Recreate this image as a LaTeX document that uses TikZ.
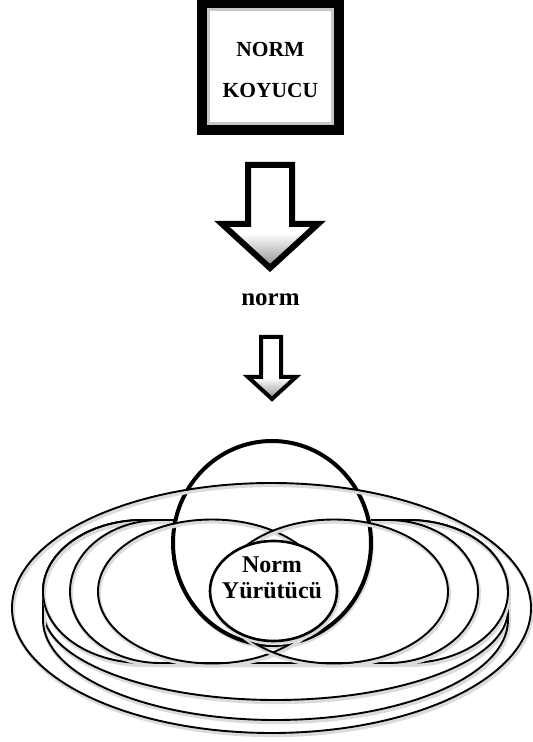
\documentclass[tikz,border=0pt]{standalone}
\usepackage{fontspec}
\setmainfont{Liberation Serif}
\pgfdeclareverticalshading{arrowshade}{100bp}{color(0bp)=(black!45); color(25bp)=(black!45); color(42bp)=(white); color(100bp)=(white)}
\begin{document}
\begin{tikzpicture}[x=1pt,y=1pt,
  shd/.style={preaction={draw=black!14,line width=3.5pt,transform canvas={xshift=1.2pt,yshift=-2.4pt}}},
  thinline/.style={draw=black,line width=1.9pt,shd},
  arrowshape/.style={draw=black,line join=miter,shading=arrowshade},
  labeltext/.style={inner sep=0pt,align=center,text=black}]
\useasboundingbox (0,0) rectangle (533,742);
% ---- top box ----
\node[draw=black,line width=10pt,minimum width=137pt,minimum height=127pt,inner sep=0pt] (box) at (270.5,675.5) {};
\draw[black!22,line width=3pt] (208.5,732.5) rectangle (332.5,618.5);
\node[labeltext,font=\bfseries\fontsize{21.5pt}{41pt}\selectfont] (koyucu) at (270.5,672) {NORM\\KOYUCU};
% ---- big arrow ----
\path[arrowshape,line width=6pt] (248,577) -- (292,577) -- (292,518) -- (318,518) -- (270,474) -- (222,518) -- (248,518) -- cycle;
\coordinate (bigtip) at (270,474);
\node[labeltext,font=\bfseries\fontsize{25pt}{30pt}\selectfont,anchor=base] (norm) at (270.5,436) {norm};
% ---- small arrow ----
\path[arrowshape,line width=4pt] (261,405) -- (281,405) -- (281,365) -- (296,365) -- (272,343) -- (248,365) -- (261,365) -- cycle;
\coordinate (smalltip) at (272,343);
% ---- layered ellipses (tops hidden by the circle) ----
\path[thinline] (43,132) arc[start angle=180,end angle=360,x radius=232.5pt,y radius=90pt]
  -- (508,150.5) arc[start angle=0,end angle=90,x radius=100pt,y radius=71.5pt]
  -- (143,222) arc[start angle=90,end angle=180,x radius=100pt,y radius=71.5pt] -- cycle;
\path[thinline] (43,122) arc[start angle=180,end angle=360,x radius=232.5pt,y radius=100pt]
  -- (508,150.5) arc[start angle=0,end angle=90,x radius=100pt,y radius=71.5pt]
  -- (143,222) arc[start angle=90,end angle=180,x radius=100pt,y radius=71.5pt] -- cycle;
\path[thinline] (143,222) -- (408,222) arc[start angle=90,end angle=-90,x radius=100pt,y radius=71.5pt]
  -- (143,79) arc[start angle=270,end angle=90,x radius=100pt,y radius=71.5pt] -- cycle;
\path[thinline] (160,222) -- (388,222) arc[start angle=90,end angle=-90,x radius=90pt,y radius=71.5pt]
  -- (160,79) arc[start angle=270,end angle=90,x radius=90pt,y radius=71.5pt] -- cycle;
% ---- big circle ----
\path[draw=black,fill=white,line width=4pt,shd] (272,199) ellipse [x radius=99pt,y radius=102pt];
\coordinate (circ) at (272,199);
% ---- outer ellipse and two overlapping ellipses ----
\path[thinline] (271.5,134) ellipse [x radius=259.5pt,y radius=125pt];
\path[thinline] (212,150.5) ellipse [x radius=114pt,y radius=72pt];
\path[thinline] (334,150.5) ellipse [x radius=114pt,y radius=72pt];
% ---- inner ellipse ----
\path[draw=black,fill=white,line width=2.6pt,shd] (273.5,151) ellipse [x radius=63.5pt,y radius=50pt];
\node[labeltext,font=\bfseries\fontsize{24pt}{26pt}\selectfont] (yurutucu) at (272,164) {Norm\\Yürütücü};
\end{tikzpicture}
\end{document}
